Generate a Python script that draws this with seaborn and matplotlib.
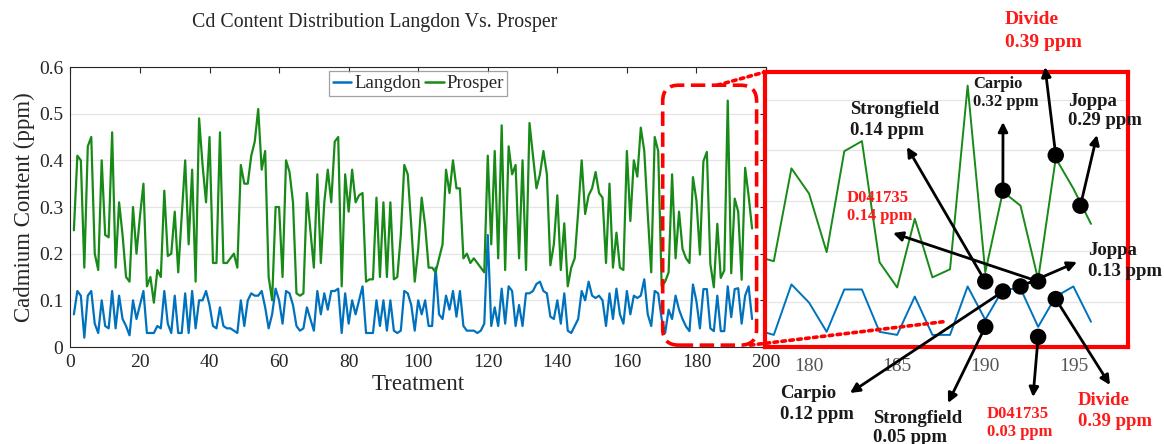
import numpy as np
import pandas as pd
import matplotlib
matplotlib.use("Agg")
import matplotlib.pyplot as plt
import seaborn as sns
from matplotlib.patches import FancyBboxPatch, ConnectionPatch
from matplotlib.transforms import IdentityTransform

# ---------------- data ----------------
treatment = list(range(1, 197))

langdon = [
    0.07, 0.12, 0.11, 0.02, 0.11, 0.12, 0.05, 0.03, 0.10, 0.045,
    0.04, 0.12, 0.04, 0.11, 0.06, 0.045, 0.025, 0.10, 0.06, 0.09,
    0.12, 0.03, 0.03, 0.03, 0.045, 0.04, 0.12, 0.05, 0.03, 0.11,
    0.03, 0.03, 0.115, 0.03, 0.12, 0.04, 0.10, 0.10, 0.12, 0.09,
    0.045, 0.04, 0.085, 0.045, 0.04, 0.04, 0.035, 0.03, 0.10, 0.045,
    0.10, 0.115, 0.11, 0.11, 0.12, 0.085, 0.04, 0.07, 0.125, 0.10,
    0.05, 0.12, 0.115, 0.09, 0.045, 0.035, 0.04, 0.085, 0.06, 0.035,
    0.12, 0.07, 0.115, 0.08, 0.12, 0.12, 0.125, 0.03, 0.115, 0.05,
    0.10, 0.07, 0.10, 0.13, 0.03, 0.03, 0.03, 0.10, 0.045, 0.10,
    0.035, 0.10, 0.035, 0.03, 0.035, 0.12, 0.115, 0.09, 0.035, 0.10,
    0.07, 0.10, 0.045, 0.045, 0.17, 0.07, 0.06, 0.11, 0.08, 0.12,
    0.065, 0.12, 0.045, 0.035, 0.035, 0.035, 0.03, 0.035, 0.05, 0.24,
    0.045, 0.085, 0.045, 0.125, 0.05, 0.13, 0.12, 0.045, 0.09, 0.045,
    0.115, 0.115, 0.12, 0.135, 0.14, 0.12, 0.115, 0.065, 0.06, 0.10,
    0.05, 0.115, 0.035, 0.03, 0.045, 0.06, 0.12, 0.10, 0.14, 0.11,
    0.105, 0.11, 0.10, 0.045, 0.115, 0.06, 0.125, 0.07, 0.05, 0.12,
    0.07, 0.11, 0.105, 0.11, 0.145, 0.07, 0.045, 0.12, 0.115, 0.06,
    0.03, 0.08, 0.06, 0.11, 0.08, 0.06, 0.044, 0.034, 0.134, 0.098,
    0.04, 0.124, 0.124, 0.04, 0.034, 0.11, 0.034, 0.034, 0.13, 0.064,
    0.124, 0.126, 0.05, 0.11, 0.13, 0.06,
]

prosper = [
    0.25, 0.41, 0.40, 0.17, 0.43, 0.45, 0.20, 0.165, 0.40, 0.24,
    0.235, 0.46, 0.17, 0.31, 0.24, 0.15, 0.14, 0.30, 0.20, 0.28,
    0.35, 0.13, 0.15, 0.095, 0.165, 0.15, 0.335, 0.195, 0.20, 0.29,
    0.16, 0.28, 0.40, 0.22, 0.38, 0.14, 0.49, 0.39, 0.31, 0.45,
    0.18, 0.18, 0.46, 0.18, 0.18, 0.19, 0.20, 0.17, 0.39, 0.35,
    0.35, 0.41, 0.44, 0.51, 0.38, 0.42, 0.15, 0.10, 0.30, 0.30,
    0.15, 0.40, 0.375, 0.31, 0.115, 0.11, 0.115, 0.33, 0.25, 0.17,
    0.37, 0.18, 0.31, 0.38, 0.31, 0.44, 0.45, 0.13, 0.37, 0.29,
    0.38, 0.31, 0.325, 0.33, 0.14, 0.145, 0.145, 0.32, 0.15, 0.31,
    0.15, 0.31, 0.145, 0.15, 0.24, 0.39, 0.37, 0.26, 0.14, 0.21,
    0.32, 0.26, 0.17, 0.17, 0.16, 0.19, 0.22, 0.38, 0.33, 0.40,
    0.34, 0.34, 0.19, 0.20, 0.18, 0.19, 0.18, 0.17, 0.16, 0.41,
    0.22, 0.42, 0.19, 0.475, 0.165, 0.43, 0.37, 0.39, 0.19, 0.40,
    0.165, 0.48, 0.41, 0.34, 0.37, 0.42, 0.37, 0.175, 0.22, 0.325,
    0.165, 0.265, 0.13, 0.17, 0.19, 0.29, 0.40, 0.285, 0.325, 0.34,
    0.375, 0.33, 0.32, 0.18, 0.35, 0.17, 0.245, 0.17, 0.165, 0.42,
    0.27, 0.40, 0.365, 0.47, 0.42, 0.285, 0.16, 0.45, 0.42, 0.13,
    0.14, 0.16, 0.37, 0.19, 0.29, 0.21, 0.19, 0.18, 0.364, 0.314,
    0.198, 0.398, 0.418, 0.178, 0.128, 0.264, 0.148, 0.164, 0.528, 0.158,
    0.318, 0.29, 0.144, 0.384, 0.324, 0.254,
]

sites = ["Langdon", "Prosper"]
x_ticks = list(range(0, 201, 20))
y_ticks = [0, 0.1, 0.2, 0.3, 0.4, 0.5, 0.6]
y_tick_labels = ["0", "0.1", "0.2", "0.3", "0.4", "0.5", "0.6"]
inset_ticks = [180, 185, 190, 195]

# zoomed window on the main axes and the inset limits
zoom_x = (170.3, 197.3)
zoom_y = (0.004, 0.561)
inset_xlim = (177.5, 198.1)
inset_ylim = (0.01, 0.555)

# callouts in the inset: label, marker position, label colour
callout_labels = ["Divide\n0.39 ppm", "Carpio\n0.32 ppm", "Joppa\n0.29 ppm",
                  "Strongfield\n0.14 ppm", "D041735\n0.14 ppm", "Joppa\n0.13 ppm",
                  "Carpio\n0.12 ppm", "Strongfield\n0.05 ppm", "D041735\n0.03 ppm",
                  "Divide\n0.39 ppm"]
callout_x = [194, 191, 195.4, 190, 193, 192, 191, 190, 193, 194]
callout_y = [0.39, 0.32, 0.29, 0.14, 0.14, 0.13, 0.12, 0.05, 0.03, 0.105]
callout_red = [True, False, False, False, True, False, False, False, True, True]

# ---------------- layout (pixels from top-left) ----------------
W, H = 1164, 444
callout_tip = [(1045, 67), (1003, 122), (1097, 135), (907, 147), (893, 233),
               (1077, 262), (850, 393), (948, 403), (1033, 397), (1110, 385)]
callout_text = [(1005, 31), (973, 93), (1068, 111), (850, 120), (847, 207),
                (1088, 261), (780, 404), (873, 428), (987, 423), (1078, 411)]
callout_size = [14, 12, 13.5, 13.5, 12, 13.5, 13.5, 13.5, 12, 13.5]
callout_spacing = [1.5, 1.2, 1.2, 1.3, 1.2, 1.35, 1.25, 1.15, 1.2, 1.25]

sns.set_theme(style="white")
plt.rcParams['font.family'] = ['Liberation Serif', 'DejaVu Serif']

BLUE = "#0072BD"
GREEN = "#178A17"
RED = "#FF0000"
TXT = "#262626"
palette = {"Langdon": BLUE, "Prosper": GREEN}

df = pd.DataFrame({
    "Treatment": treatment * 2,
    "Cd": langdon + prosper,
    "Site": [sites[0]] * len(treatment) + [sites[1]] * len(treatment),
})


def px_rect(l, t, r, b):
    return [l / W, 1 - b / H, (r - l) / W, (b - t) / H]


fig = plt.figure(figsize=(W / 100, H / 100), dpi=100)
fig.patch.set_facecolor("white")

# ---------------- main axes ----------------
ax = fig.add_axes(px_rect(70.4, 67, 766, 347))
sns.lineplot(data=df, x="Treatment", y="Cd", hue="Site", palette=palette,
             estimator=None, sort=False, linewidth=1.6, ax=ax)
ax.set_xlim(0, 200)
ax.set_ylim(0, 0.6)
ax.set_xticks(x_ticks)
ax.set_xticklabels([str(t) for t in x_ticks])
ax.set_yticks(y_ticks)
ax.set_yticklabels(y_tick_labels)
ax.tick_params(direction="in", top=True, right=True, length=4, width=0.8,
               labelsize=14, colors=TXT, pad=5)
ax.yaxis.grid(True, color="#e4e4e4", linewidth=0.9)
ax.xaxis.grid(False)
for s in ax.spines.values():
    s.set_color(TXT)
    s.set_linewidth(0.8)
ax.set_xlabel("Treatment", fontsize=16.5, color=TXT, labelpad=2)
ax.set_ylabel("Cadmium Content (ppm)", fontsize=16.5, color=TXT, labelpad=3)

handles, labels = ax.get_legend_handles_labels()
leg = ax.legend(handles, labels, loc="upper center", bbox_to_anchor=(0.5, 0.985),
                ncol=2, fontsize=13.5, frameon=True, fancybox=False,
                handlelength=1.0, handletextpad=0.15, columnspacing=0.2,
                borderpad=0.2, borderaxespad=0.0)
leg.get_frame().set_edgecolor("#8a8a8a")
leg.get_frame().set_linewidth(0.9)
for line in leg.get_lines():
    line.set_linewidth(1.8)

fig.text(375 / W, 1 - 22 / H, "Cd Content Distribution Langdon Vs. Prosper",
         ha="center", va="center", fontsize=14.3, color=TXT)

# ---------------- inset ----------------
axin = fig.add_axes(px_rect(765, 72, 1128, 347))
axin.set_facecolor("white")
sub = df[df["Treatment"] >= 176]
sns.lineplot(data=sub, x="Treatment", y="Cd", hue="Site", palette=palette,
             estimator=None, sort=False, linewidth=1.4, legend=False, ax=axin)
axin.set_xlim(*inset_xlim)
axin.set_ylim(*inset_ylim)
axin.set_xticks(inset_ticks)
axin.set_xticklabels([str(t) for t in inset_ticks])
axin.set_yticks([0.1, 0.2, 0.3, 0.4, 0.5])
axin.set_yticklabels([])
axin.tick_params(length=0, labelsize=14, colors="#555555", pad=8)
axin.yaxis.grid(True, color="#e4e4e4", linewidth=0.9)
axin.xaxis.grid(False)
axin.set_xlabel("")
axin.set_ylabel("")
for s in axin.spines.values():
    s.set_color(RED)
    s.set_linewidth(3.0)

# callout arrows (head at the label end) and markers
for i in range(len(callout_labels)):
    tx, ty = callout_tip[i]
    axin.annotate("", xy=(tx, H - ty), xycoords="figure pixels",
                  xytext=(callout_x[i], callout_y[i]), textcoords="data",
                  arrowprops=dict(arrowstyle="-|>", color="black", lw=2.0,
                                  mutation_scale=14, shrinkA=0, shrinkB=0),
                  annotation_clip=False, zorder=4)
sns.scatterplot(x=callout_x, y=callout_y, color="black", s=140, edgecolor="none",
                ax=axin, zorder=6, clip_on=False)

for i, lab in enumerate(callout_labels):
    lx, ly = callout_text[i]
    fig.text(lx / W, 1 - ly / H, lab, ha="left", va="center",
             fontsize=callout_size[i], fontweight="bold",
             color="#FF1A1A" if callout_red[i] else "#1a1a1a",
             linespacing=callout_spacing[i])

# ---------------- zoom box and connectors ----------------
fig.canvas.draw()
(x0, y0) = ax.transData.transform((zoom_x[0], zoom_y[0]))
(x1, y1) = ax.transData.transform((zoom_x[1], zoom_y[1]))
box = FancyBboxPatch((x0, y0), x1 - x0, y1 - y0,
                     boxstyle="round,pad=0,rounding_size=16",
                     transform=IdentityTransform(), fill=False, edgecolor=RED,
                     linewidth=2.6, linestyle=(0, (4, 1.8)), zorder=10)
fig.add_artist(box)

con_top = ConnectionPatch(xyA=(186.0, zoom_y[1]), coordsA=ax.transData,
                          xyB=(0, 1), coordsB=axin.transAxes,
                          color=RED, linewidth=2.6, linestyle=(0, (1, 1.2)), zorder=10)
fig.add_artist(con_top)
con_bot = ConnectionPatch(xyA=(195.5, zoom_y[0]), coordsA=ax.transData,
                          xyB=(187.6, 0.06), coordsB=axin.transData,
                          color=RED, linewidth=2.6, linestyle=(0, (1, 1.2)), zorder=10)
fig.add_artist(con_bot)

fig.savefig("out.png", dpi=100, facecolor="white")
